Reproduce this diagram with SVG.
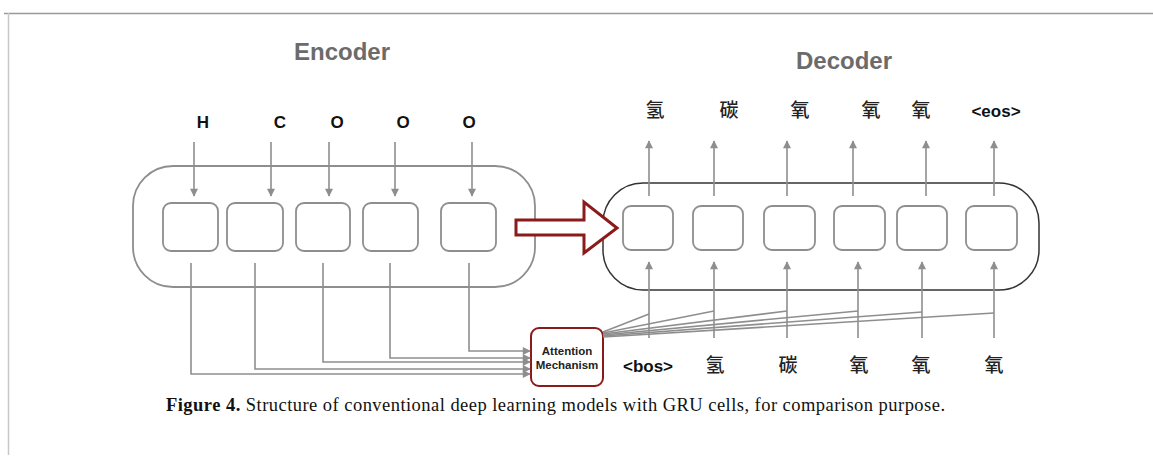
<svg xmlns="http://www.w3.org/2000/svg" width="1153" height="459" viewBox="0 0 1153 459">
<style>
.cell{fill:#fff;stroke:#8e8e8e;stroke-width:1.8}
.conn{stroke:#8e8e8e;stroke-width:1.6;fill:none}
.title{font-family:"Liberation Sans",Arial,sans-serif;font-weight:bold;fill:#6b6b6b;font-size:24px;text-anchor:middle}
.tok{font-family:"Liberation Sans","Noto Sans CJK SC",sans-serif;font-weight:bold;fill:#111;font-size:17px;text-anchor:middle}
.cjk{font-family:"Noto Sans CJK SC",sans-serif;font-weight:500;fill:#222;font-size:19px;text-anchor:middle}
.att{font-family:"Liberation Sans",Arial,sans-serif;font-weight:bold;fill:#222;font-size:11.5px;text-anchor:middle}
.cap{font-family:"Liberation Serif","Times New Roman",serif;font-size:18.5px;fill:#111}
</style>
<defs>
<marker id="ah2" viewBox="0 0 10 10" refX="9" refY="5" markerWidth="9" markerHeight="8" orient="auto" markerUnits="userSpaceOnUse">
<path d="M0,0 L10,5 L0,10 z" fill="#8e8e8e"/>
</marker>
</defs>
<rect width="1153" height="459" fill="#fff"/>
<path d="M4,13.5 H1153" stroke="#999" stroke-width="1.5" fill="none"/>
<path d="M8.5,13 V455" stroke="#c8c8c8" stroke-width="1.5" fill="none"/>

<g id="titles">
<text class="title" x="342" y="60">Encoder</text>
<text class="title" x="844" y="69">Decoder</text>
</g>

<g id="encoder">
<rect x="133" y="166" width="402" height="121" rx="40" ry="40" fill="none" stroke="#8e8e8e" stroke-width="1.8"/>
<rect class="cell" x="163" y="203" width="55" height="48" rx="8"/>
<rect class="cell" x="227" y="203" width="56" height="48" rx="8"/>
<rect class="cell" x="296" y="203" width="54" height="48" rx="8"/>
<rect class="cell" x="363" y="203" width="55" height="48" rx="8"/>
<rect class="cell" x="441" y="203" width="55" height="48" rx="8"/>
</g>

<g id="encoder-inputs">
<text class="tok" x="203" y="128">H</text>
<text class="tok" x="280" y="128">C</text>
<text class="tok" x="337" y="128">O</text>
<text class="tok" x="403" y="128">O</text>
<text class="tok" x="469" y="128">O</text>
</g>

<g id="decoder">
<rect x="603" y="183" width="436" height="107" rx="40" ry="40" fill="none" stroke="#333" stroke-width="1.5"/>
<rect class="cell" x="623" y="206" width="50" height="44" rx="8"/>
<rect class="cell" x="693" y="206" width="50" height="44" rx="8"/>
<rect class="cell" x="764" y="206" width="51" height="44" rx="8"/>
<rect class="cell" x="834" y="206" width="51" height="44" rx="8"/>
<rect class="cell" x="897" y="206" width="50" height="44" rx="8"/>
<rect class="cell" x="966" y="206" width="51" height="44" rx="8"/>
</g>

<g id="decoder-outputs">
<text class="cjk" x="655" y="117">氢</text>
<text class="cjk" x="729" y="117">碳</text>
<text class="cjk" x="800" y="117">氧</text>
<text class="cjk" x="871" y="117">氧</text>
<text class="cjk" x="921" y="117">氧</text>
<text class="tok" x="996" y="117">&lt;eos&gt;</text>
</g>

<g id="decoder-inputs">
<text class="tok" x="648" y="372" font-size="19">&lt;bos&gt;</text>
<text class="cjk" x="715" y="372">氢</text>
<text class="cjk" x="788" y="372">碳</text>
<text class="cjk" x="859" y="372">氧</text>
<text class="cjk" x="921" y="372">氧</text>
<text class="cjk" x="994" y="372">氧</text>
</g>

<g id="attention">
<rect x="531" y="328" width="72" height="58" rx="8" fill="#fff" stroke="#8b1a1a" stroke-width="2"/>
<text class="att" x="567" y="355">Attention</text>
<text class="att" x="567" y="369">Mechanism</text>
</g>

<g id="bridge">
<polygon points="516,220 584,220 584,202 617,228 584,253 584,235 516,235" fill="#fff" stroke="#8b1a1a" stroke-width="3" stroke-linejoin="miter"/>
</g>

<g id="connectors">
<line class="conn" x1="194" y1="142" x2="194" y2="196" marker-end="url(#ah2)"/>
<line class="conn" x1="271" y1="142" x2="271" y2="196" marker-end="url(#ah2)"/>
<line class="conn" x1="329" y1="142" x2="329" y2="196" marker-end="url(#ah2)"/>
<line class="conn" x1="395" y1="142" x2="395" y2="196" marker-end="url(#ah2)"/>
<line class="conn" x1="472" y1="142" x2="472" y2="196" marker-end="url(#ah2)"/>
<path class="conn" d="M469,263 V351 H530" marker-end="url(#ah2)"/>
<path class="conn" d="M390,263 V358 H530" marker-end="url(#ah2)"/>
<path class="conn" d="M323,263 V362 H530" marker-end="url(#ah2)"/>
<path class="conn" d="M255,263 V369 H530" marker-end="url(#ah2)"/>
<path class="conn" d="M191,263 V374 H530" marker-end="url(#ah2)"/>
<line class="conn" x1="649" y1="196" x2="649" y2="141" marker-end="url(#ah2)"/>
<line class="conn" x1="714" y1="196" x2="714" y2="141" marker-end="url(#ah2)"/>
<line class="conn" x1="787" y1="196" x2="787" y2="141" marker-end="url(#ah2)"/>
<line class="conn" x1="853" y1="196" x2="853" y2="141" marker-end="url(#ah2)"/>
<line class="conn" x1="926" y1="196" x2="926" y2="141" marker-end="url(#ah2)"/>
<line class="conn" x1="994" y1="196" x2="994" y2="141" marker-end="url(#ah2)"/>
<line class="conn" x1="649" y1="338" x2="649" y2="262" marker-end="url(#ah2)"/>
<line class="conn" x1="714" y1="338" x2="714" y2="262" marker-end="url(#ah2)"/>
<line class="conn" x1="787" y1="338" x2="787" y2="262" marker-end="url(#ah2)"/>
<line class="conn" x1="858" y1="338" x2="858" y2="262" marker-end="url(#ah2)"/>
<line class="conn" x1="922" y1="338" x2="922" y2="262" marker-end="url(#ah2)"/>
<line class="conn" x1="994" y1="338" x2="994" y2="262" marker-end="url(#ah2)"/>
<line class="conn" x1="603" y1="332" x2="649" y2="314"/>
<line class="conn" x1="603" y1="333" x2="714" y2="311"/>
<line class="conn" x1="603" y1="334" x2="787" y2="311"/>
<line class="conn" x1="603" y1="335" x2="858" y2="311"/>
<line class="conn" x1="603" y1="336" x2="922" y2="312"/>
<line class="conn" x1="603" y1="337" x2="994" y2="313"/>
</g>

<g id="caption">
<text class="cap" x="166" y="411" textLength="779" lengthAdjust="spacing"><tspan font-weight="bold">Figure 4.</tspan> Structure of conventional deep learning models with GRU cells, for comparison purpose.</text>
</g>
</svg>
